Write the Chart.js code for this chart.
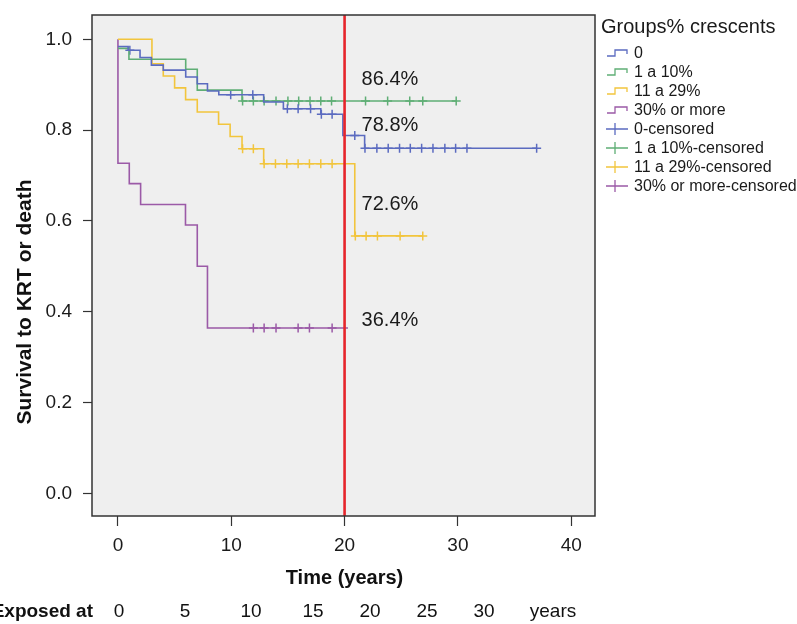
<!DOCTYPE html>
<html>
<head>
<meta charset="utf-8">
<script src="https://cdn.jsdelivr.net/npm/chart.js@4.4.1/dist/chart.umd.min.js"></script>
<style>
  html, body { margin: 0; padding: 0; background: #ffffff; }
  #grafico { display: block; }
</style>
</head>
<body>
<canvas id="grafico" width="797" height="624"></canvas>
<script>
// grupos e cores
const grupos = ["0", "1 a 10%", "11 a 29%", "30% or more"];
const cores = ["#5b6bc0", "#5fae75", "#f2c53d", "#9b5aa7"];

// curvas de Kaplan-Meier (tempo em anos, sobrevida)
const tempo0 = [0, 0.9, 1.95, 2.95, 4.0, 5.98, 7.0, 7.9, 8.9, 12.86, 14.6, 17.9, 19.85, 21.77, 36.95];
const sobrev0 = [0.984, 0.976, 0.960, 0.943, 0.932, 0.917, 0.902, 0.886, 0.878, 0.862, 0.847, 0.835, 0.788, 0.760, 0.760];
const censura0 = [1.05, 9.95, 11.9, 14.95, 15.9, 17.0, 17.95, 18.9, 20.9, 21.8, 22.85, 23.85, 24.85, 25.8, 26.8, 27.8, 28.85, 29.8, 30.8, 36.95];

const tempo1 = [0, 0.97, 5.98, 7.0, 10.95, 29.85];
const sobrev1 = [0.980, 0.956, 0.934, 0.888, 0.864, 0.864];
const censura1 = [11.0, 11.95, 12.9, 13.95, 15.0, 15.95, 16.95, 17.9, 18.85, 21.85, 23.8, 25.75, 26.9, 29.85];

const tempo2 = [0, 3.0, 4.0, 5.0, 5.97, 7.0, 8.88, 9.9, 10.95, 12.86, 20.9, 26.9];
const sobrev2 = [1.0, 0.946, 0.919, 0.893, 0.867, 0.840, 0.813, 0.786, 0.759, 0.726, 0.567, 0.567];
const censura2 = [11.0, 11.95, 12.9, 13.9, 14.9, 15.9, 16.9, 17.9, 18.9, 20.95, 21.9, 22.9, 24.9, 26.9];

const tempo3 = [0, 0, 1.0, 2.0, 5.96, 7.0, 7.9, 20.3];
const sobrev3 = [1.0, 0.727, 0.682, 0.636, 0.591, 0.500, 0.364, 0.364];
const censura3 = [11.95, 12.9, 13.95, 15.9, 16.9, 18.9];

// eixos
const ticksX = [0, 10, 20, 30, 40];
const ticksY = [0, 0.2, 0.4, 0.6, 0.8, 1.0];
const linhaCorte = 20;

// rotulos das curvas no corte de 20 anos
const rotulos = ["86.4%", "78.8%", "72.6%", "36.4%"];
const rotuloY = [0.912, 0.811, 0.637, 0.380];
const rotuloX = 21.5;

// linha "Exposed at"
const expostoTitulo = "Exposed at";
const expostoRotulos = ["0", "5", "10", "15", "20", "25", "30", "years"];
const expostoPosX = [119, 185, 251, 313, 370, 427, 484, 553];

const fonte = "'Liberation Sans', Arial, sans-serif";
Chart.defaults.font.family = fonte;

const tempos = [tempo0, tempo1, tempo2, tempo3];
const sobrevs = [sobrev0, sobrev1, sobrev2, sobrev3];
const censuras = [censura0, censura1, censura2, censura3];

// valor da curva em degrau num tempo t
function valorNaCurva(tempo, sobrev, t) {
    let v = sobrev[0];
    for (let i = 0; i < tempo.length; i++) {
        if (tempo[i] <= t) v = sobrev[i];
    }
    return v;
}

let datasets = [];
for (let g = 0; g < grupos.length; g++) {
    datasets.push({
        label: grupos[g],
        data: tempos[g].map((t, i) => ({ x: t, y: sobrevs[g][i] })),
        borderColor: cores[g],
        borderWidth: 1.6,
        stepped: true,
        pointRadius: 0,
        fill: false
    });
}
for (let g = 0; g < grupos.length; g++) {
    datasets.push({
        label: grupos[g] + "-censored",
        data: censuras[g].map(t => ({ x: t, y: valorNaCurva(tempos[g], sobrevs[g], t) })),
        borderColor: cores[g],
        showLine: false,
        pointStyle: 'cross',
        pointRadius: 4.5,
        pointBorderWidth: 1.5,
        pointBorderColor: cores[g]
    });
}

// fundo, caixa, linha vermelha, rotulos, legenda e textos dos eixos
const desenhos = {
    id: 'desenhos',
    beforeDatasetsDraw(chart) {
        const a = chart.chartArea;
        const ctx = chart.ctx;
        ctx.save();
        ctx.fillStyle = "#efefef";
        ctx.fillRect(a.left, a.top, a.right - a.left, a.bottom - a.top);
        ctx.restore();
    },
    afterDatasetsDraw(chart) {
        const a = chart.chartArea;
        const ctx = chart.ctx;
        const sx = chart.scales.x;
        const sy = chart.scales.y;
        ctx.save();
        // linha de corte
        let xc = sx.getPixelForValue(linhaCorte);
        ctx.strokeStyle = "#e6252b";
        ctx.lineWidth = 2.6;
        ctx.beginPath();
        ctx.moveTo(xc, a.top);
        ctx.lineTo(xc, a.bottom);
        ctx.stroke();
        // caixa
        ctx.strokeStyle = "#333333";
        ctx.lineWidth = 1.5;
        ctx.strokeRect(a.left, a.top, a.right - a.left, a.bottom - a.top);
        // rotulos percentuais
        ctx.fillStyle = "#1a1a1a";
        ctx.font = "20px " + fonte;
        ctx.textAlign = "left";
        ctx.textBaseline = "middle";
        for (let i = 0; i < rotulos.length; i++) {
            ctx.fillText(rotulos[i], sx.getPixelForValue(rotuloX), sy.getPixelForValue(rotuloY[i]));
        }
        ctx.restore();
    },
    afterDraw(chart) {
        const a = chart.chartArea;
        const ctx = chart.ctx;
        ctx.save();
        ctx.fillStyle = "#111111";
        // titulo eixo x
        ctx.font = "bold 20px " + fonte;
        ctx.textAlign = "center";
        ctx.textBaseline = "middle";
        ctx.fillText("Time (years)", (a.left + a.right) / 2 + 1, 578);
        // titulo eixo y
        ctx.save();
        ctx.translate(25, 302);
        ctx.rotate(-Math.PI / 2);
        ctx.font = "bold 21px " + fonte;
        ctx.fillText("Survival to KRT or death", 0, 0);
        ctx.restore();
        // linha Exposed at
        ctx.textAlign = "right";
        ctx.font = "bold 19px " + fonte;
        ctx.fillText(expostoTitulo, 93, 612);
        ctx.textAlign = "center";
        ctx.font = "19px " + fonte;
        for (let i = 0; i < expostoRotulos.length; i++) {
            ctx.fillText(expostoRotulos[i], expostoPosX[i], 612);
        }
        // legenda
        ctx.textAlign = "left";
        ctx.font = "20px " + fonte;
        ctx.fillStyle = "#1a1a1a";
        ctx.fillText("Groups% crescents", 601, 27);
        ctx.font = "16px " + fonte;
        let itens = datasets.map(d => d.label);
        for (let i = 0; i < itens.length; i++) {
            let cy = 53 + i * 19;
            let cor = cores[i % grupos.length];
            ctx.strokeStyle = cor;
            ctx.lineWidth = 1.3;
            ctx.beginPath();
            if (i < grupos.length) {
                ctx.moveTo(607, cy + 3);
                ctx.lineTo(615, cy + 3);
                ctx.lineTo(615, cy - 3);
                ctx.lineTo(627, cy - 3);
                ctx.lineTo(627, cy + 1);
            } else {
                ctx.moveTo(606, cy);
                ctx.lineTo(628, cy);
                ctx.moveTo(615, cy - 6);
                ctx.lineTo(615, cy + 6);
            }
            ctx.stroke();
            ctx.fillText(itens[i], 634, cy + 1);
        }
        ctx.restore();
    }
};

const ctx = document.getElementById('grafico').getContext('2d');
const grafico = new Chart(ctx, {
    type: 'line',
    data: { datasets: datasets },
    options: {
        responsive: false,
        animation: false,
        devicePixelRatio: 1,
        layout: { padding: { top: 15, right: 202, left: 0, bottom: 0 } },
        plugins: {
            legend: { display: false },
            tooltip: { enabled: false }
        },
        scales: {
            x: {
                type: 'linear',
                min: -2.29,
                max: 42.1,
                afterBuildTicks: s => { s.ticks = ticksX.map(v => ({ value: v })); },
                afterFit: s => { s.height = 108; s.paddingLeft = 0; s.paddingRight = 0; },
                border: { display: false },
                grid: { drawOnChartArea: false, drawTicks: true, tickLength: 10, tickColor: "#333333", tickWidth: 1.2 },
                ticks: { font: { size: 19 }, color: "#1a1a1a", padding: 8, maxRotation: 0 }
            },
            y: {
                type: 'linear',
                min: -0.05,
                max: 1.0535,
                afterBuildTicks: s => { s.ticks = ticksY.map(v => ({ value: v })); },
                afterFit: s => { s.width = 92; s.paddingTop = 0; s.paddingBottom = 0; },
                border: { display: false },
                grid: { drawOnChartArea: false, drawTicks: true, tickLength: 9, tickColor: "#333333", tickWidth: 1.2 },
                ticks: { font: { size: 19 }, color: "#1a1a1a", padding: 11, callback: v => v.toFixed(1) }
            }
        }
    },
    plugins: [desenhos]
});
</script>
</body>
</html>
